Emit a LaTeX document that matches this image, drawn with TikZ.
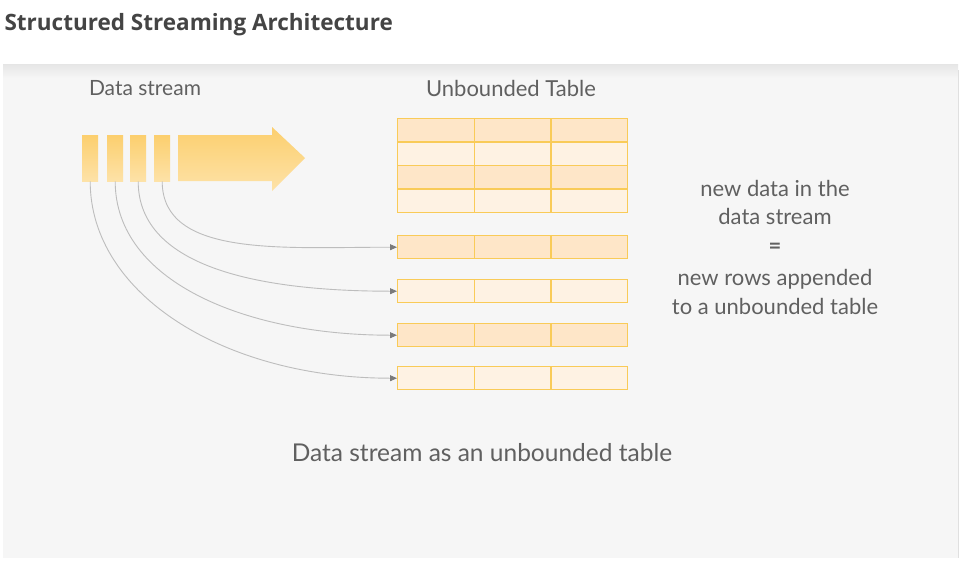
\documentclass[tikz,border=0pt]{standalone}
\usepackage{fontspec}
\setmainfont{Lato}
\newfontfamily\titlefont{Open Sans}
\usetikzlibrary{arrows.meta,positioning}
\definecolor{panelbg}{HTML}{F6F6F6}
\definecolor{titlegray}{HTML}{444444}
\definecolor{labelgray}{HTML}{606060}
\definecolor{cellline}{HTML}{F9CB58}
\definecolor{celldark}{HTML}{FEE6C8}
\definecolor{celllight}{HTML}{FEF2E3}
\definecolor{streamtop}{HTML}{FCCF6E}
\definecolor{streambot}{HTML}{FDE2A8}
\definecolor{curvegray}{HTML}{BDBDBD}
\definecolor{tipgray}{HTML}{7A7A7A}
\tikzset{
  cell/.style={draw=cellline,line width=1.4pt,minimum width=76.67pt,minimum height=23pt,inner sep=0pt,anchor=north west},
  chunk/.style={top color=streamtop,bottom color=streambot,minimum width=16pt,minimum height=46pt,inner sep=0pt,anchor=north west},
  lbl/.style={text=labelgray,font=\fontsize{21}{25}\selectfont},
  feed/.style={draw=curvegray,line width=0.9pt,-{Triangle[length=7pt,width=6pt,color=tipgray]}}
}
\begin{document}
\begin{tikzpicture}[x=1pt,y=-1pt]
  \useasboundingbox (0,0) rectangle (964,573);
  \fill[white] (0,0) rectangle (964,573);
  % panel
  \shade[top color=black!10,bottom color=panelbg] (3,64) rectangle (958,78);
  \fill[panelbg] (3,78) rectangle (958,558);
  \draw[black!12] (958,70) -- (958,558);
  \node[anchor=west,text=titlegray,font=\titlefont\bfseries\fontsize{22.5}{27}\selectfont] (title) at (1,25) {Structured Streaming Architecture};
  \node[lbl] (dslabel) at (145,88) {Data stream};
  \node[lbl,font=\fontsize{22}{26}\selectfont] (tablabel) at (511,88) {Unbounded Table};
  % stream
  \foreach \i/\x in {1/82,2/107,3/130,4/154} \node[chunk] (s\i) at (\x,135) {};
  \shade[top color=streamtop,bottom color=streambot] (178,135) -- (272,135) -- (272,127) -- (305,158) -- (272,191) -- (272,181) -- (178,181) -- cycle;
  % table
  \foreach \r/\f in {1/celldark,2/celllight,3/celldark,4/celllight}
    \foreach \c in {1,2,3} \node[cell,fill=\f] (t\r-\c) at (397+76.67*\c-76.67,118+23.5*\r-23.5) {};
  \foreach \r/\y/\f in {1/235/celldark,2/279/celllight,3/323/celldark,4/366/celllight}
    \foreach \c in {1,2,3} \node[cell,fill=\f] (n\r-\c) at (397+76.67*\c-76.67,\y) {};
  % feeds
  \foreach \s/\r in {4/1,3/2,2/3,1/4} \draw[feed] (s\s.south) to[out=-90,in=180,out looseness=0.8,in looseness=1.2] (n\r-1.west);
  \node[lbl,align=center,font=\fontsize{22}{28.5}\selectfont] (note) at (775,247) {new data in the\\data stream\\\textbf{=}\\[4pt]new rows appended\\to a unbounded table};
  \node[lbl,font=\fontsize{24.5}{28}\selectfont] (caption) at (482,453) {Data stream as an unbounded table};
\end{tikzpicture}
\end{document}
